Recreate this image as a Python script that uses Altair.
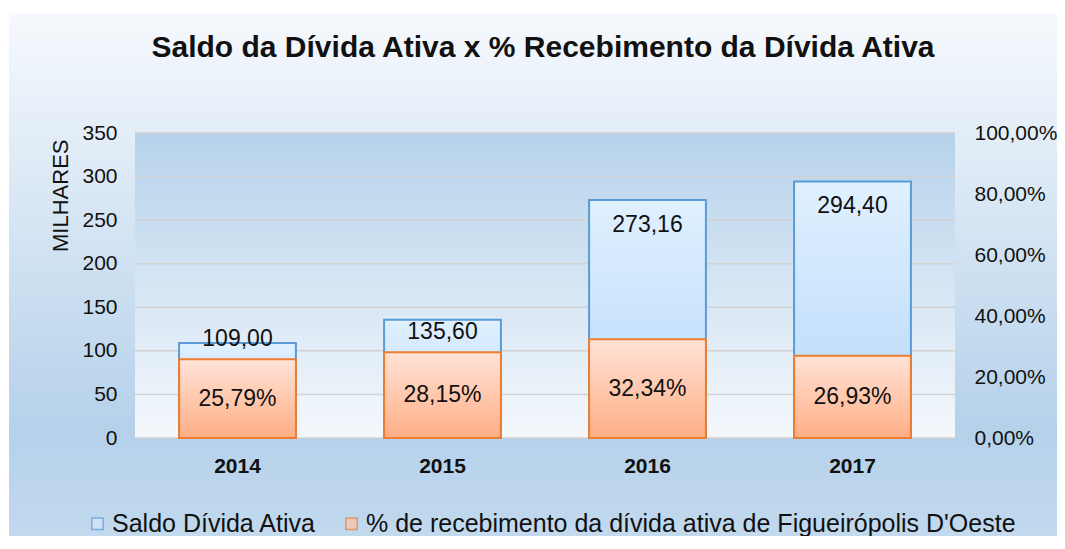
import altair as alt
import pandas as pd

# ---- data ----
anos = ["2014", "2015", "2016", "2017"]
saldo = [109.00, 135.60, 273.16, 294.40]            # Saldo Dívida Ativa (milhares)
recebimento = [0.2579, 0.2815, 0.3234, 0.2693]      # % de recebimento
series = ["Saldo Dívida Ativa",
          "% de recebimento da dívida ativa de Figueirópolis D'Oeste"]
left_ticks = [0, 50, 100, 150, 200, 250, 300, 350]
right_ticks = [0, 0.2, 0.4, 0.6, 0.8, 1.0]
titulo = "Saldo da Dívida Ativa x % Recebimento da Dívida Ativa"

df = pd.DataFrame({"ano": anos, "saldo": saldo, "pct": recebimento})
grid_df = pd.DataFrame({"v": left_ticks})
leg_df = pd.DataFrame({"serie": series})
one = pd.DataFrame({"k": [0]})

W, H = 820, 305
PL, PT, PR, PB = 127, 125, 102, 98
FONT = "Liberation Sans"
TXT = "#111111"
BLUE, ORANGE = "#5b9bd5", "#ed7d31"

def grad(stops):
    return alt.LinearGradient(
        gradient="linear", x1=0, y1=0, x2=0, y2=1,
        stops=[alt.GradientStop(offset=o, color=c) for o, c in stops])

xenc = alt.X("ano:N", sort=anos,
             scale=alt.Scale(paddingInner=0.43, paddingOuter=0.215),
             axis=alt.Axis(title=None, labelAngle=0, labelFontWeight="bold",
                           labelFontSize=21, labelPadding=17, ticks=False,
                           domain=False, labelColor=TXT, labelFont=FONT,
                           zindex=1))

left_axis = alt.Axis(values=left_ticks, title="MILHARES",
                     titleFontWeight="normal", titleFontSize=22,
                     titleFont=FONT, titleColor=TXT,
                     titleX=-75, titleY=6, titleAlign="right",
                     titleAngle=270, titleBaseline="middle",
                     labelFontSize=21, labelFont=FONT, labelColor=TXT,
                     labelPadding=18, ticks=False, domain=False,
                     grid=False, zindex=1, orient="left")
right_axis = alt.Axis(orient="right", values=right_ticks, title=None,
                      labelExpr="replace(format(datum.value, '.2%'), '.', ',')",
                      labelFontSize=21, labelFont=FONT, labelColor=TXT,
                      labelPadding=19, ticks=False, domain=False,
                      grid=False, zindex=1)

legend = alt.Legend(
    title=None, orient="none", legendX=-50, legendY=378, direction="horizontal",
    symbolType="square", symbolSize=130, symbolStrokeWidth=1.5,
    labelFontSize=25, labelFont=FONT, labelColor=TXT, labelOffset=2,
    columnPadding=22, labelLimit=900, zindex=1)

# background of whole chart
chart_bg = alt.Chart(one).mark_rect(
    fill=grad([(0, "#f6f9fd"), (0.8, "#b5d1ea"), (1, "#c2d9ee")])
).encode(x=alt.value(-PL + 1), x2=alt.value(W + PR),
         y=alt.value(-PT + 5), y2=alt.value(H + PB))

# plot-area background
plot_bg = alt.Chart(one).mark_rect(
    fill=grad([(0, "#b6d2eb"), (1, "#f4f8fc")])
).encode(x=alt.value(0), x2=alt.value(W), y=alt.value(0), y2=alt.value(H))

# chart title
title_mark = alt.Chart(one).mark_text(
    font=FONT, fontSize=30, fontWeight="bold", color=TXT,
    align="center", baseline="middle"
).encode(x=alt.value(W / 2 - 2), y=alt.value(-85), text=alt.value(titulo))

# legend carrier (drawn off-canvas, only provides the legend)
leg_layer = alt.Chart(leg_df).mark_point(shape="square", filled=True, size=130,
                                         strokeWidth=1.5).encode(
    x=alt.value(-3000), y=alt.value(-3000),
    fill=alt.Fill("serie:N", scale=alt.Scale(domain=series, range=["#d2e7fb", "#ffc4a6"]),
                  legend=legend),
    stroke=alt.Stroke("serie:N", scale=alt.Scale(domain=series, range=[BLUE, ORANGE]),
                      legend=legend))

yl_scale = alt.Scale(domain=[0, 350], nice=False, zero=True)
yr_scale = alt.Scale(domain=[0, 1], nice=False, zero=True)

grid = alt.Chart(grid_df).mark_rule(color="#d2d2d2", strokeWidth=1.5).encode(
    y=alt.Y("v:Q", scale=yl_scale, axis=left_axis),
    x=alt.value(0), x2=alt.value(W))

blue_bars = alt.Chart(df).mark_bar(
    fill=grad([(0, "#e0f0ff"), (1, "#b6d8fa")]), stroke=BLUE, strokeWidth=2
).encode(
    x=xenc,
    y=alt.Y("saldo:Q", scale=yl_scale, axis=left_axis))

blue_text = alt.Chart(df).transform_calculate(
    txt="replace(format(datum.saldo, '.2f'), '.', ',')",
    ly="datum.saldo < 120 ? datum.saldo + 5 : (datum.saldo < 200 ? datum.saldo - 14 : datum.saldo - 28.5)"
).mark_text(fontSize=23, font=FONT, color=TXT, baseline="middle").encode(
    x=xenc, y=alt.Y("ly:Q", scale=yl_scale, axis=left_axis), text="txt:N")

left_group = alt.layer(grid, blue_bars, blue_text)

orange_bars = alt.Chart(df).mark_bar(
    fill=grad([(0, "#ffe3d7"), (1, "#ffae85")]), stroke=ORANGE, strokeWidth=2
).encode(
    x=xenc,
    y=alt.Y("pct:Q", scale=yr_scale, axis=right_axis))

orange_text = alt.Chart(df).transform_calculate(
    txt="replace(format(datum.pct, '.2%'), '.', ',')",
    ly="datum.pct / 2"
).mark_text(fontSize=23, font=FONT, color=TXT, baseline="middle").encode(
    x=xenc, y=alt.Y("ly:Q", scale=yr_scale, axis=right_axis), text="txt:N")

right_group = alt.layer(orange_bars, orange_text)

chart = alt.layer(chart_bg, plot_bg, left_group, right_group, title_mark,
                  leg_layer).resolve_scale(
    y="independent"
).properties(
    width=W, height=H,
    autosize=alt.AutoSizeParams(type="none"),
    padding={"left": PL, "top": PT, "right": PR, "bottom": PB},
).configure_view(stroke=None).configure(background="white")

chart.save("out.html", embed_options={"renderer": "svg", "actions": False})
